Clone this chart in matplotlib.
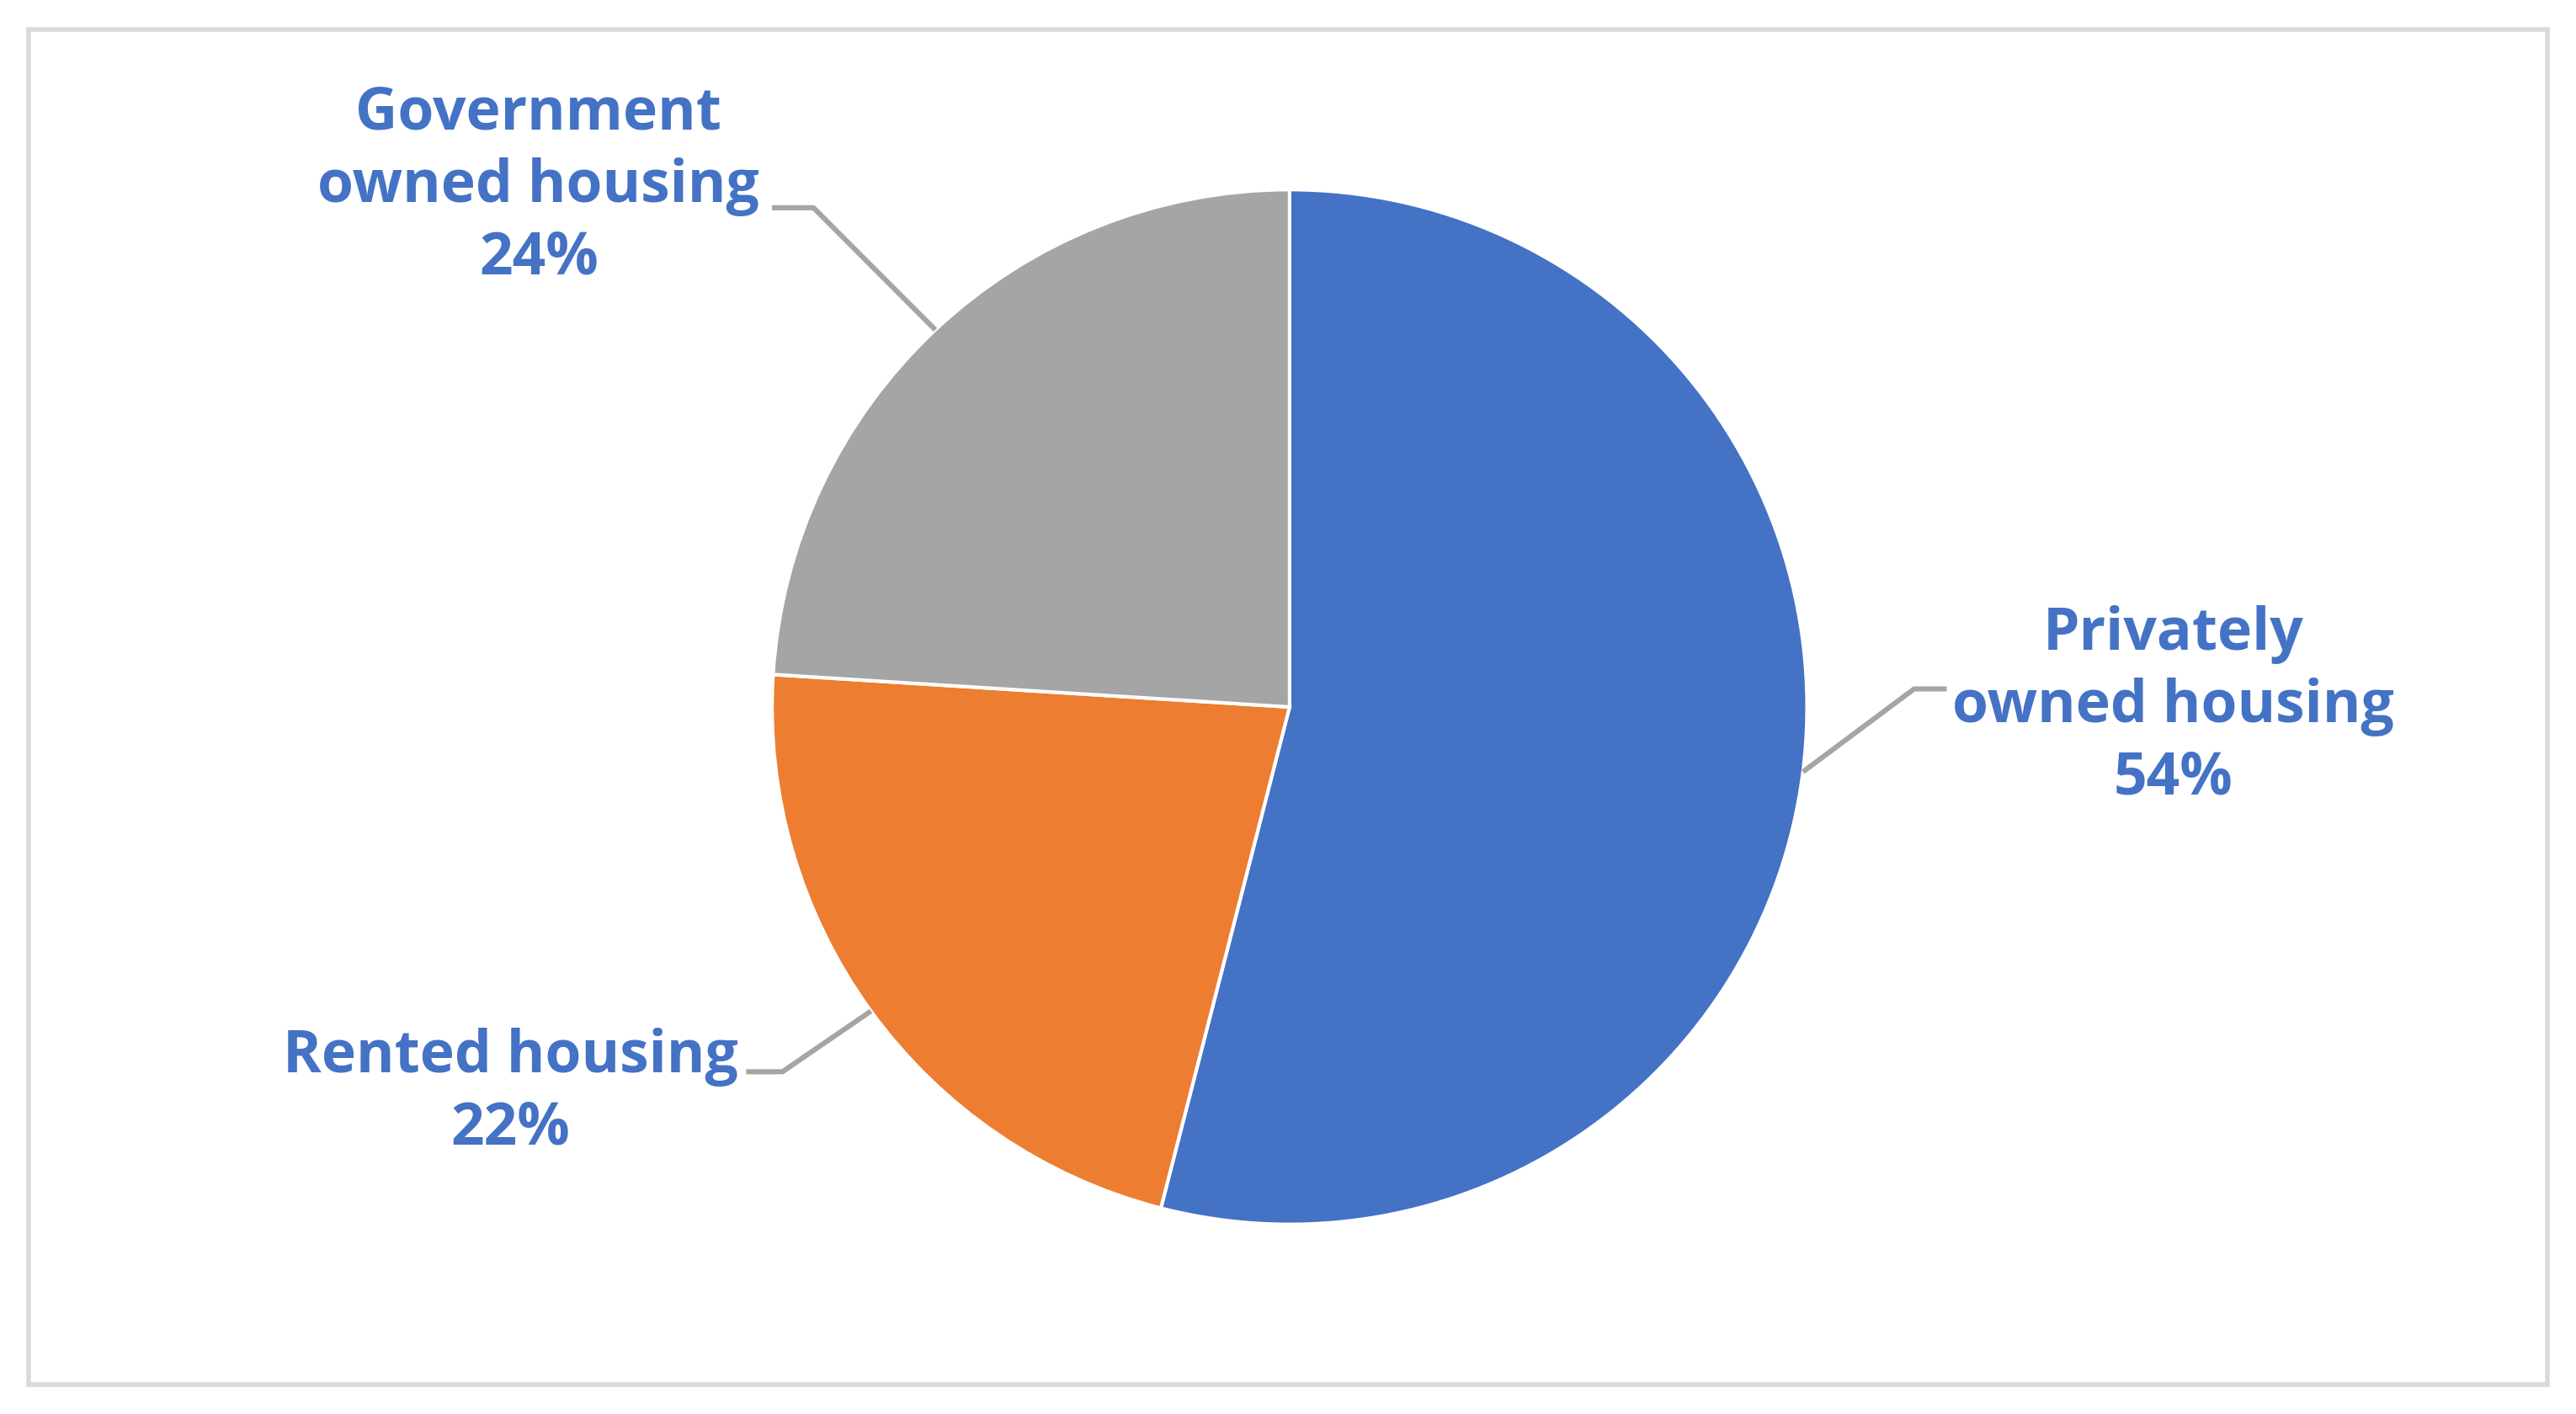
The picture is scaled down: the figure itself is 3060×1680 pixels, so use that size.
import numpy as np
import matplotlib.pyplot as plt
from matplotlib.patches import Rectangle

labels = ["Privately\nowned housing", "Rented housing", "Government\nowned housing"]
shares = [54, 22, 24]
colors = ["#4472C4", "#ED7D31", "#A5A5A5"]

# label text centres and elbow points (pie radius = 1)
label_pos = [(1.708, 0.0), (-1.505, -0.746), (-1.451, 1.006)]
elbows = [((1.207, 0.035), (1.27, 0.035)), ((-0.98, -0.705), (-1.05, -0.705)),
          ((-0.92, 0.965), (-1.0, 0.965))]

fig = plt.figure(figsize=(15.3, 8.4), dpi=200)
ax = fig.add_axes([0, 0, 1, 1])

wedges, _ = ax.pie(shares, colors=colors, startangle=90, counterclock=False,
                   radius=1.0, wedgeprops=dict(edgecolor="white", linewidth=1.5))
ax.set_xlim(-2.492, 2.486)
ax.set_ylim(-1.365, 1.365)
ax.set_aspect("equal")
ax.axis("off")

for w, lab, val, pos, (e1, e2) in zip(wedges, labels, shares, label_pos, elbows):
    ang = np.deg2rad((w.theta1 + w.theta2) / 2)
    edge = (np.cos(ang), np.sin(ang))
    ax.plot([edge[0], e1[0], e2[0]], [edge[1], e1[1], e2[1]],
            color="#A5A5A5", lw=2.2, solid_capstyle="butt")
    ax.text(pos[0], pos[1], f"{lab}\n{val}%", ha="center", va="center",
            fontsize=25, fontweight="bold", color="#4472C4", family="Open Sans",
            linespacing=1.3)

fig.patches.append(Rectangle((0.011, 0.021), 0.978, 0.958, transform=fig.transFigure,
                             fill=False, edgecolor="#D9D9D9", lw=2))
fig.savefig("out.png", dpi=200, facecolor="white")
